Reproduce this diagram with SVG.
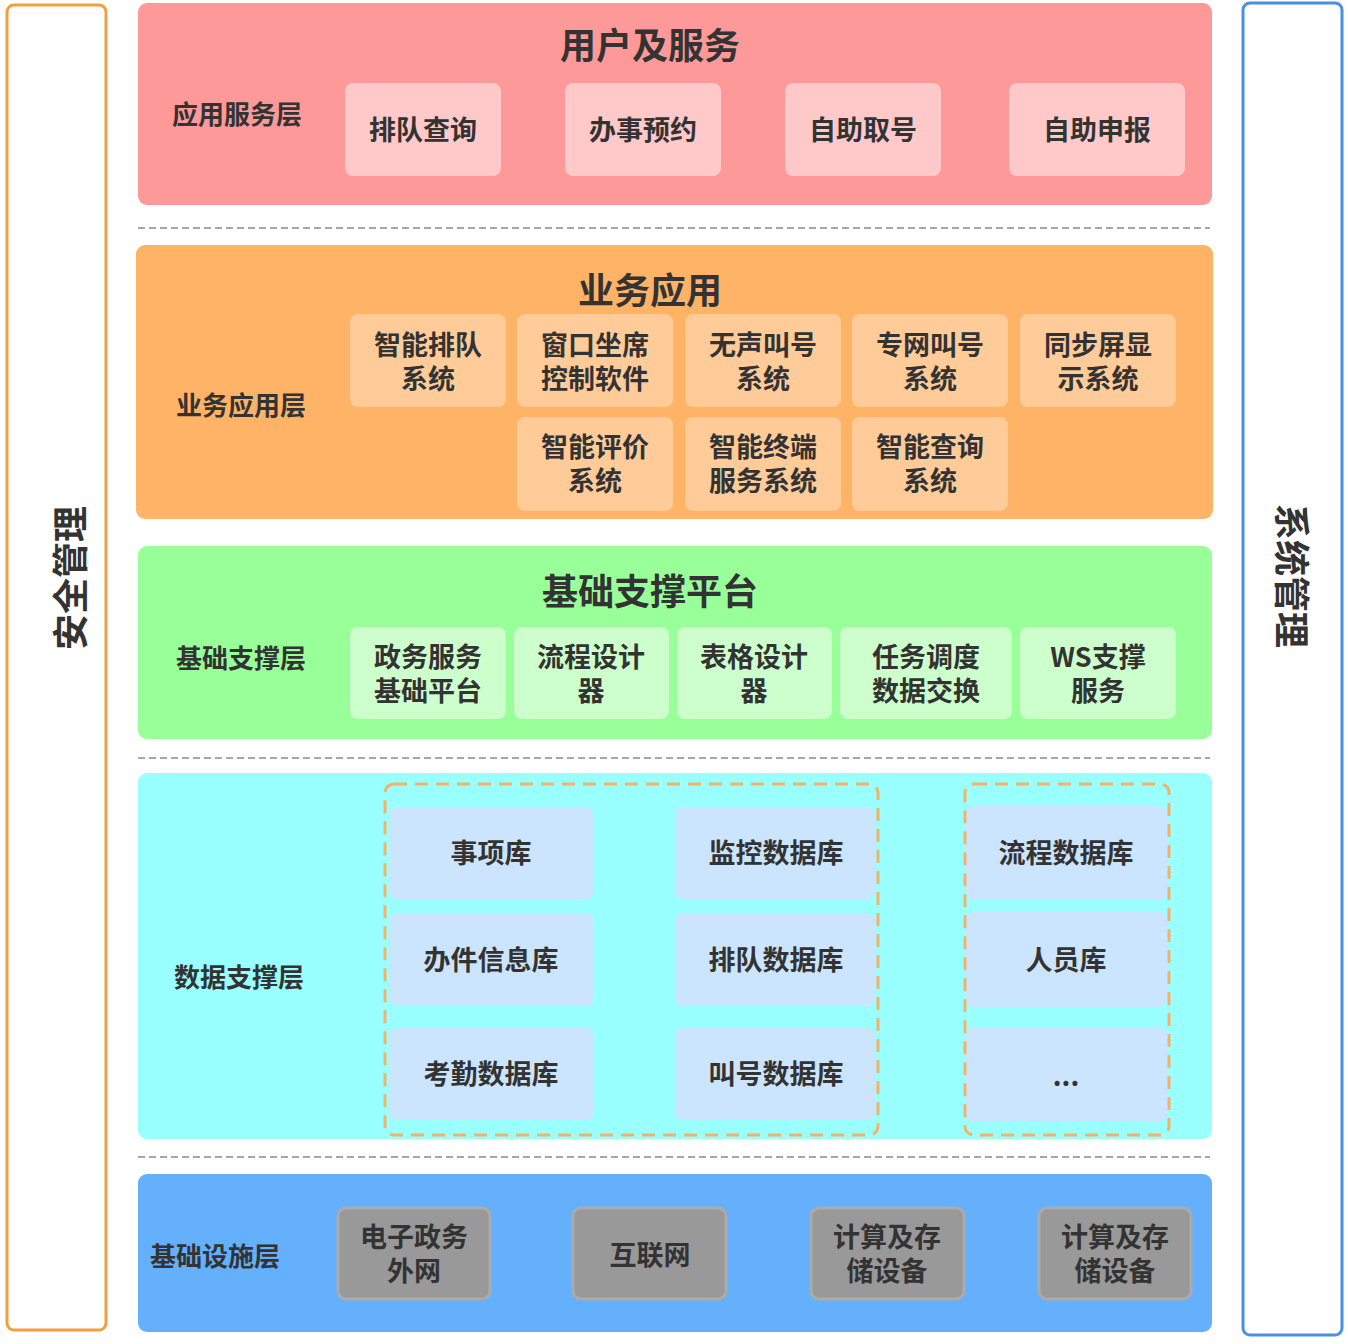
<svg xmlns="http://www.w3.org/2000/svg" width="1348" height="1344" viewBox="0 0 1348 1344">
<style>
text{font-family:"Noto Sans CJK SC","Noto Sans",sans-serif;font-weight:bold;fill:#333;text-anchor:middle;dominant-baseline:central}
.t{font-size:36px}
.l{font-size:26px}
.b{font-size:27px}
.side{font-size:36px}
.sep{stroke:#8a8a8a;stroke-width:1.5;stroke-dasharray:7 4;fill:none}
.grp{fill:none;stroke:#f4b16a;stroke-width:3;stroke-dasharray:13 8}
</style>
<rect width="1348" height="1344" fill="#fff"/>
<g id="security">
<rect x="7" y="5" width="99" height="1325" rx="7" fill="#fff" stroke="#f0a040" stroke-width="3"/>
<text class="side" transform="rotate(-90 70 578)" x="70" y="576">安全管理</text>
</g>
<g id="sysmgmt">
<rect x="1243" y="3" width="99" height="1332" rx="7" fill="#fff" stroke="#4a90e2" stroke-width="3"/>
<text class="side" transform="rotate(90 1292 576)" x="1292" y="574">系统管理</text>
</g>
<g id="separators">
<line class="sep" x1="138" y1="228" x2="1210" y2="228"/>
<line class="sep" x1="138" y1="758" x2="1210" y2="758"/>
<line class="sep" x1="138" y1="1157" x2="1210" y2="1157"/>
</g>
<g id="layer-app">
<rect x="138" y="3" width="1074" height="202" rx="9" fill="#fe9999"/>
<text class="t" x="650" y="43">用户及服务</text>
<text class="l" x="237" y="112">应用服务层</text>
<g fill="#ffc9c9">
<rect x="345" y="83" width="156" height="93" rx="8"/>
<rect x="565" y="83" width="156" height="93" rx="8"/>
<rect x="785" y="83" width="156" height="93" rx="8"/>
<rect x="1009" y="83" width="176" height="93" rx="8"/>
</g>
<text class="b" x="423" y="128">排队查询</text>
<text class="b" x="643" y="128">办事预约</text>
<text class="b" x="863" y="128">自助取号</text>
<text class="b" x="1097" y="128">自助申报</text>
</g>
<g id="layer-biz">
<rect x="136" y="245" width="1077" height="274" rx="9" fill="#ffb366"/>
<text class="t" x="650" y="288">业务应用</text>
<text class="l" x="241" y="403">业务应用层</text>
<g fill="#ffcc99">
<rect x="350" y="314" width="156" height="93" rx="8"/>
<rect x="517" y="314" width="156" height="93" rx="8"/>
<rect x="685" y="314" width="156" height="93" rx="8"/>
<rect x="852" y="314" width="156" height="93" rx="8"/>
<rect x="1020" y="314" width="156" height="93" rx="8"/>
<rect x="517" y="417" width="156" height="94" rx="8"/>
<rect x="685" y="417" width="156" height="94" rx="8"/>
<rect x="852" y="417" width="156" height="94" rx="8"/>
</g>
<text class="b" x="428" y="343">智能排队<tspan x="428" dy="34">系统</tspan></text>
<text class="b" x="595" y="343">窗口坐席<tspan x="595" dy="34">控制软件</tspan></text>
<text class="b" x="763" y="343">无声叫号<tspan x="763" dy="34">系统</tspan></text>
<text class="b" x="930" y="343">专网叫号<tspan x="930" dy="34">系统</tspan></text>
<text class="b" x="1098" y="343">同步屏显<tspan x="1098" dy="34">示系统</tspan></text>
<text class="b" x="595" y="445">智能评价<tspan x="595" dy="34">系统</tspan></text>
<text class="b" x="763" y="445">智能终端<tspan x="763" dy="34">服务系统</tspan></text>
<text class="b" x="930" y="445">智能查询<tspan x="930" dy="34">系统</tspan></text>
</g>
<g id="layer-base">
<rect x="138" y="546" width="1074" height="193" rx="9" fill="#99ff99"/>
<text class="t" x="650" y="589">基础支撑平台</text>
<text class="l" x="241" y="656">基础支撑层</text>
<g fill="#ccffcc">
<rect x="350" y="627" width="156" height="92" rx="8"/>
<rect x="514" y="627" width="155" height="92" rx="8"/>
<rect x="677" y="627" width="155" height="92" rx="8"/>
<rect x="840" y="627" width="172" height="92" rx="8"/>
<rect x="1020" y="627" width="156" height="92" rx="8"/>
</g>
<text class="b" x="428" y="655">政务服务<tspan x="428" dy="34">基础平台</tspan></text>
<text class="b" x="591" y="655">流程设计<tspan x="591" dy="34">器</tspan></text>
<text class="b" x="754" y="655">表格设计<tspan x="754" dy="34">器</tspan></text>
<text class="b" x="926" y="655">任务调度<tspan x="926" dy="34">数据交换</tspan></text>
<text class="b" x="1098" y="655">WS支撑<tspan x="1098" dy="34">服务</tspan></text>
</g>
<g id="layer-data">
<rect x="138" y="773" width="1074" height="366" rx="9" fill="#99ffff"/>
<text class="l" x="239" y="975">数据支撑层</text>
<g fill="#cce5ff">
<rect x="389" y="807" width="205" height="92" rx="8"/>
<rect x="389" y="913" width="205" height="93" rx="8"/>
<rect x="389" y="1028" width="205" height="92" rx="8"/>
<rect x="675" y="807" width="200" height="92" rx="8"/>
<rect x="675" y="913" width="200" height="93" rx="8"/>
<rect x="675" y="1028" width="200" height="92" rx="8"/>
<rect x="966" y="806" width="201" height="94" rx="8"/>
<rect x="966" y="912" width="201" height="95" rx="8"/>
<rect x="966" y="1027" width="201" height="95" rx="8"/>
</g>
<rect class="grp" x="385" y="784" width="493" height="351" rx="9"/>
<rect class="grp" x="965" y="784" width="204" height="351" rx="9"/>
<text class="b" x="491" y="851">事项库</text>
<text class="b" x="491" y="958">办件信息库</text>
<text class="b" x="491" y="1072">考勤数据库</text>
<text class="b" x="776" y="851">监控数据库</text>
<text class="b" x="776" y="958">排队数据库</text>
<text class="b" x="776" y="1072">叫号数据库</text>
<text class="b" x="1066" y="851">流程数据库</text>
<text class="b" x="1066" y="958">人员库</text>
<text class="b" x="1066" y="1074">...</text>
</g>
<g id="layer-infra">
<rect x="138" y="1174" width="1074" height="158" rx="9" fill="#64b0fd"/>
<text class="l" x="215" y="1254">基础设施层</text>
<g fill="#999999" stroke="#ababab" stroke-width="3">
<rect x="338" y="1208" width="152" height="91" rx="8"/>
<rect x="573" y="1208" width="153" height="91" rx="8"/>
<rect x="811" y="1208" width="153" height="91" rx="8"/>
<rect x="1039" y="1208" width="152" height="91" rx="8"/>
</g>
<text class="b" x="414" y="1235">电子政务<tspan x="414" dy="34">外网</tspan></text>
<text class="b" x="650" y="1253">互联网</text>
<text class="b" x="887" y="1235">计算及存<tspan x="887" dy="34">储设备</tspan></text>
<text class="b" x="1115" y="1235">计算及存<tspan x="1115" dy="34">储设备</tspan></text>
</g>
</svg>
